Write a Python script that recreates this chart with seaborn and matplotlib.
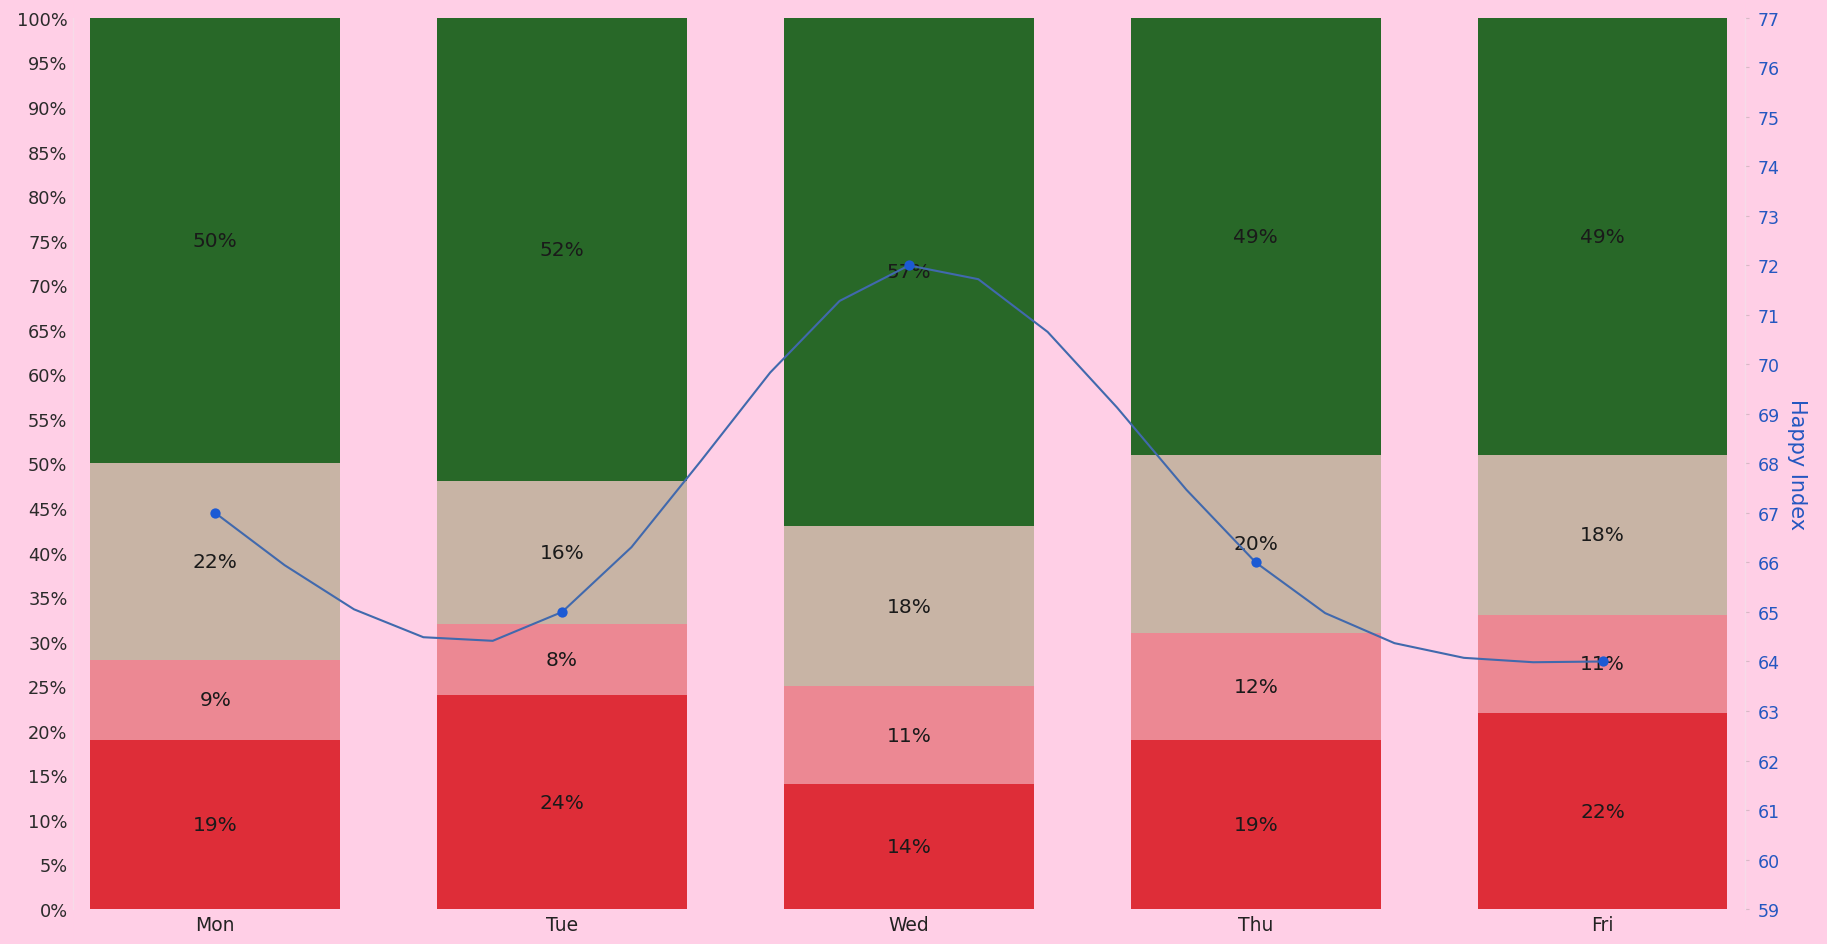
import numpy as np
import matplotlib
matplotlib.use("Agg")
import matplotlib.pyplot as plt
import seaborn as sns
from matplotlib.ticker import FuncFormatter

# Daily mood shares (percent of responses) and the overall happiness index
days = ["Mon", "Tue", "Wed", "Thu", "Fri"]
very_unhappy = [19, 24, 14, 19, 22]
unhappy = [9, 8, 11, 12, 11]
neutral = [22, 16, 18, 20, 18]
happy = [50, 52, 57, 49, 49]
happy_index = [67, 65, 72, 66, 64]

segment_colors = ["#de2d38", "#ec8893", "#c8b4a5", "#286828"]
BG = "#ffcfe6"
BLUE_TXT = "#2457c0"

sns.set_theme(style="white")
plt.rcParams["font.family"] = ["DejaVu Sans"]


def natural_cubic_spline(xk, yk, xs):
    """Evaluate a natural cubic spline through (xk, yk) at xs."""
    xk = np.asarray(xk, float)
    yk = np.asarray(yk, float)
    n = len(xk)
    h = np.diff(xk)
    A = np.zeros((n, n))
    r = np.zeros(n)
    A[0, 0] = A[-1, -1] = 1.0
    for i in range(1, n - 1):
        A[i, i - 1] = h[i - 1]
        A[i, i] = 2 * (h[i - 1] + h[i])
        A[i, i + 1] = h[i]
        r[i] = 6 * ((yk[i + 1] - yk[i]) / h[i] - (yk[i] - yk[i - 1]) / h[i - 1])
    M = np.linalg.solve(A, r)
    idx = np.clip(np.searchsorted(xk, xs, side="right") - 1, 0, n - 2)
    x0, x1 = xk[idx], xk[idx + 1]
    hh = x1 - x0
    return (M[idx] * (x1 - xs) ** 3 / (6 * hh)
            + M[idx + 1] * (xs - x0) ** 3 / (6 * hh)
            + (yk[idx] / hh - M[idx] * hh / 6) * (x1 - xs)
            + (yk[idx + 1] / hh - M[idx + 1] * hh / 6) * (xs - x0))


fig = plt.figure(figsize=(18.27, 9.45), dpi=100, facecolor=BG)
ax = fig.add_axes([0.040, 0.037, 0.915, 0.943])
ax.set_facecolor(BG)

# Stacked bars: draw cumulative totals, tallest first, so each layer shows its own segment
layers = np.array([very_unhappy, unhappy, neutral, happy])
cum = np.cumsum(layers, axis=0)
for i in range(len(layers) - 1, -1, -1):
    sns.barplot(x=days, y=cum[i], order=days, color=segment_colors[i],
                saturation=1, width=0.72, errorbar=None, linewidth=0, ax=ax)

for i in range(len(layers)):
    for j in range(len(days)):
        ax.text(j, cum[i][j] - layers[i][j] / 2, f"{layers[i][j]}%",
                ha="center", va="center", fontsize=14.5, color="#1a1a1a", zorder=5)

ax.set_ylim(0, 100)
ax.set_yticks(range(0, 101, 5))
ax.yaxis.set_major_formatter(FuncFormatter(lambda v, p: f"{int(v)}%"))
ax.set_xticks(range(len(days)))
ax.set_xticklabels(days)
ax.set_xlabel("")
ax.set_ylabel("")
ax.tick_params(axis="y", length=0, labelsize=12.8, labelcolor="#2b2b2b", pad=4)
ax.tick_params(axis="x", length=0, labelsize=13.5, labelcolor="#222222", pad=4)
for s in ax.spines.values():
    s.set_visible(False)
ax.spines["left"].set_visible(True)
ax.spines["left"].set_color("#f6dbe8")
ax.spines["left"].set_linewidth(1.0)

# Happiness index on the secondary axis, drawn as a smoothed line
ax2 = ax.twinx()
pos = np.arange(len(days))
xs = np.linspace(0, len(days) - 1, 21)
ys = natural_cubic_spline(pos, happy_index, xs)
sns.lineplot(x=xs, y=ys, color="#4169ad", linewidth=1.5, ax=ax2)
sns.scatterplot(x=pos, y=happy_index, color="#1c5ad4", s=55, linewidth=0, ax=ax2, zorder=6)
ax2.set_ylim(59, 77)
ax2.set_yticks(range(59, 78))
ax2.set_ylabel("Happy Index", color=BLUE_TXT, fontsize=15, rotation=270, labelpad=20)
ax2.tick_params(axis="y", length=3, width=0.8, color="#d9b7c6", labelsize=12.5,
                labelcolor=BLUE_TXT, pad=6)
for s in ax2.spines.values():
    s.set_visible(False)
ax2.spines["right"].set_visible(True)
ax2.spines["right"].set_color("#f6dbe8")
ax2.spines["right"].set_linewidth(1.0)

ax.set_xlim(-0.41, 4.41)

fig.savefig("out.png", dpi=100, facecolor=BG)
